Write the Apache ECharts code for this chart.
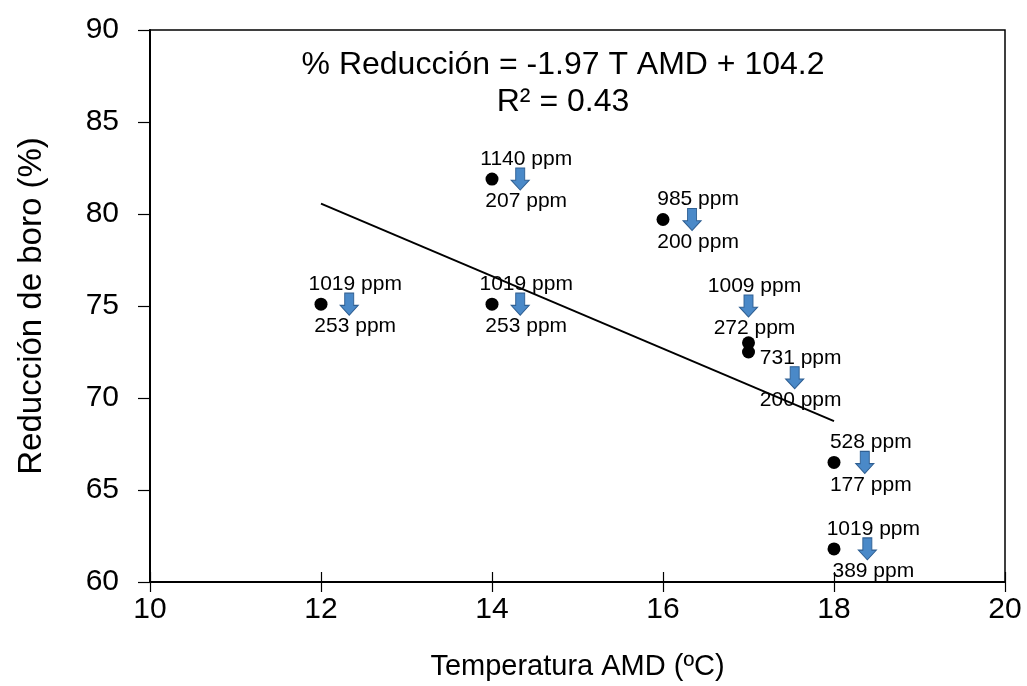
<!DOCTYPE html>
<html>
<head>
<meta charset="utf-8">
<script src="https://cdn.jsdelivr.net/npm/echarts@6/dist/echarts.min.js"></script>
<style>html,body{margin:0;padding:0;background:#fff}#c{width:1027px;height:686px}</style>
</head>
<body>
<div id="c"></div>
<script>
// Data
const temps = [12, 14, 14, 16, 17, 17, 18, 18];
const reduction = [75.1, 81.9, 75.1, 79.7, 73.0, 72.5, 66.5, 61.8];
const arrowX = [12.33, 14.33, 14.33, 16.34, 17.0, 17.54, 18.36, 18.39];
const arrowY = [75.1, 81.9, 75.1, 79.7, 75.0, 71.1, 66.5, 61.8];
const fromLabels = ['1019 ppm', '1140 ppm', '1019 ppm', '985 ppm', '1009 ppm', '731 ppm', '528 ppm', '1019 ppm'];
const toLabels = ['253 ppm', '207 ppm', '253 ppm', '200 ppm', '272 ppm', '200 ppm', '177 ppm', '389 ppm'];
const slope = -1.97;
const intercept = 104.2;
const trendRange = [12, 18];
const xTicks = [10, 12, 14, 16, 18, 20];
const yTicks = [60, 65, 70, 75, 80, 85, 90];
const equationText = '% Reducción = -1.97 T AMD + 104.2';
const r2Text = 'R² = 0.43';

const FONT = '"Liberation Sans", Arial, sans-serif';
const chart = echarts.init(document.getElementById('c'), null, {renderer: 'canvas'});

const points = temps.map((t, i) => [t, reduction[i]]);
const arrows = arrowX.map((x, i) => ({value: [x, arrowY[i]], from: fromLabels[i], to: toLabels[i]}));
const trend = trendRange.map(x => [x, slope * x + intercept]);
const arrowPath = 'path://M3,0 L9,0 L9,10 L12,10 L6,18 L0,10 L3,10 Z';

chart.setOption({
  animation: false,
  backgroundColor: '#ffffff',
  grid: {left: 150, right: 22, top: 30, bottom: 104, outerBoundsMode: 'none', containLabel: false,
    show: true, borderColor: '#000', borderWidth: 1.5, backgroundColor: 'transparent'},
  xAxis: [{
    type: 'value', min: xTicks[0], max: xTicks[xTicks.length - 1], interval: 2,
    name: 'Temperatura AMD (ºC)', nameLocation: 'middle', nameGap: 70,
    nameTextStyle: {fontFamily: FONT, fontSize: 29, color: '#000'},
    axisLine: {show: true, onZero: false, lineStyle: {color: '#000', width: 2}},
    axisTick: {show: true, length: 10, lineStyle: {color: '#000', width: 1.2}},
    axisLabel: {fontFamily: FONT, fontSize: 30, color: '#000', margin: 13},
    splitLine: {show: false}
  }, {
    type: 'value', position: 'bottom', min: xTicks[0], max: xTicks[xTicks.length - 1], interval: 2,
    axisLine: {show: false},
    axisTick: {show: true, inside: true, length: 10, lineStyle: {color: '#000', width: 1.2}},
    axisLabel: {show: false},
    splitLine: {show: false}
  }],
  yAxis: {
    type: 'value', min: yTicks[0], max: yTicks[yTicks.length - 1], interval: 5,
    name: 'Reducción de boro (%)', nameLocation: 'middle', nameGap: 102, nameRotate: 90,
    nameTextStyle: {fontFamily: FONT, fontSize: 33, color: '#000'},
    axisLine: {show: true, onZero: false, lineStyle: {color: '#000', width: 2}},
    axisTick: {show: true, length: 12, lineStyle: {color: '#000', width: 1.2}},
    axisLabel: {fontFamily: FONT, fontSize: 30, color: '#000', margin: 31},
    splitLine: {show: false}
  },
  graphic: [
    {type: 'text', x: 563, y: 65, style: {text: equationText, font: '32px ' + FONT, fill: '#000', textAlign: 'center', textVerticalAlign: 'middle'}},
    {type: 'text', x: 563, y: 102, style: {text: r2Text, font: '32px ' + FONT, fill: '#000', textAlign: 'center', textVerticalAlign: 'middle'}}
  ],
  series: [
    {
      type: 'line', data: trend, symbol: 'none', z: 2,
      lineStyle: {color: '#000', width: 2}, silent: true
    },
    {
      type: 'scatter', data: points, symbol: 'circle', symbolSize: 13, z: 3,
      itemStyle: {color: '#000', opacity: 1}
    },
    {
      type: 'scatter', data: arrows, symbol: arrowPath, symbolSize: [18, 22], z: 4,
      itemStyle: {color: '#4a89c8', borderColor: '#2f5f92', borderWidth: 1, opacity: 1},
      label: {show: true, position: 'top', distance: -2, offset: [6, 0], formatter: p => p.data.from,
        fontFamily: FONT, fontSize: 21, color: '#000'}
    },
    {
      type: 'scatter', data: arrows, symbol: arrowPath, symbolSize: [18, 22], z: 5,
      itemStyle: {color: 'rgba(0,0,0,0)', opacity: 1},
      label: {show: true, position: 'bottom', distance: 1, offset: [6, 0], formatter: p => p.data.to,
        fontFamily: FONT, fontSize: 21, color: '#000'}
    }
  ]
});
</script>
</body>
</html>
